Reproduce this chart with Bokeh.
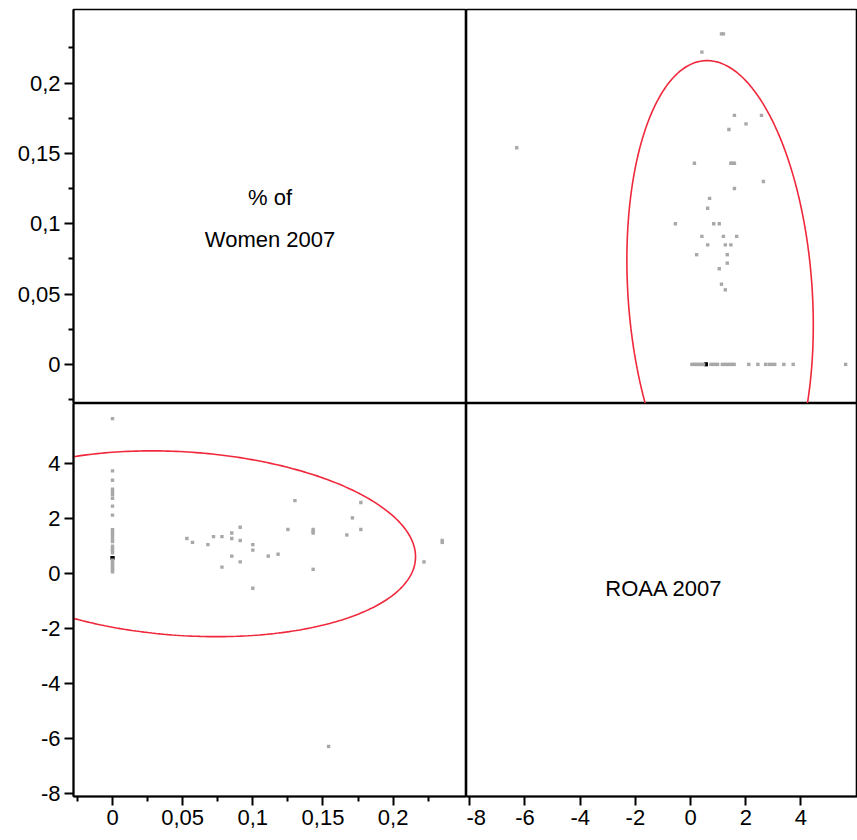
import numpy as np
from collections import Counter
from bokeh.plotting import figure
from bokeh.layouts import gridplot
from bokeh.models import FixedTicker, Range1d, ColumnDataSource
from bokeh.embed import file_html
from bokeh.resources import INLINE
from bokeh.core.properties import value

# ---------------- data ----------------
# banks with at least one woman: (% of women 2007, ROAA 2007)
women_pct = [0.053, 0.057, 0.068, 0.072, 0.078, 0.078, 0.085, 0.085, 0.085,
             0.091, 0.091, 0.091, 0.100, 0.100, 0.100, 0.111, 0.118, 0.125,
             0.130, 0.143, 0.143, 0.143, 0.143, 0.154, 0.167, 0.171, 0.177,
             0.177, 0.222, 0.235, 0.235]
roaa_pct = [1.26, 1.12, 1.04, 1.33, 1.33, 0.22, 1.46, 1.26, 0.62,
            1.67, 1.19, 0.41, 1.04, 0.84, -0.55, 0.62, 0.69, 1.59,
            2.64, 1.59, 1.52, 1.46, 0.14, -6.30, 1.39, 2.01, 2.57,
            1.59, 0.41, 1.19, 1.12]
# banks with no women (% of women = 0): ROAA 2007
roaa_no_women = [5.62, 3.72, 3.38, 3.05, 2.95, 2.85, 2.72, 2.44, 2.11,
                 1.58, 1.50, 1.42, 1.33, 1.24, 1.15, 0.98, 0.90, 0.82, 0.74,
                 0.56, 0.56, 0.56, 0.56, 0.56, 0.47, 0.40, 0.33, 0.26, 0.19,
                 0.12, 0.05]

# bivariate normal density ellipse (95%)
mean_women, sd_women = 0.051, 0.0674
mean_roaa, sd_roaa = 1.07, 1.38
corr = -0.14
chi2_95 = 5.991

# axes
women_ticks = [0.0, 0.05, 0.1, 0.15, 0.2]
women_tick_labels = ["0", "0,05", "0,1", "0,15", "0,2"]
women_minor_ticks = [-0.025, 0.025, 0.075, 0.125, 0.175, 0.225]
roaa_ticks = [-8, -6, -4, -2, 0, 2, 4]
roaa_tick_labels = ["-8", "-6", "-4", "-2", "0", "2", "4"]
women_range = (-0.0278, 0.2523)
roaa_range_y = (-8.12, 6.17)
roaa_range_x = (-8.12, 6.05)

women_title = ["% of", "Women 2007"]
roaa_title = ["ROAA 2007"]

# ---------------- derived ----------------
w_all = list(women_pct) + [0.0] * len(roaa_no_women)
r_all = list(roaa_pct) + list(roaa_no_women)
cnt = Counter(zip(w_all, r_all))
colors = ["#000000" if cnt[(a, b)] >= 3 else "#a8a8a8" for a, b in zip(w_all, r_all)]
pts = ColumnDataSource(dict(w=w_all, r=r_all, c=colors))

t = np.linspace(0, 2 * np.pi, 361)
k = np.sqrt(chi2_95)
z1, z2 = k * np.cos(t), k * np.sin(t)
ell = ColumnDataSource(dict(
    w=mean_women + sd_women * z1,
    r=mean_roaa + sd_roaa * (corr * z1 + np.sqrt(1 - corr ** 2) * z2)))

FONT = "Liberation Sans"
RED = "#f0283c"


def make(xr, yr, fw, fh, left, top, bottom, xaxis, yaxis):
    p = figure(x_range=Range1d(*xr), y_range=Range1d(*yr),
               frame_width=fw, frame_height=fh,
               min_border_left=left, min_border_right=0,
               min_border_top=top, min_border_bottom=bottom,
               x_axis_location="below" if xaxis else None,
               y_axis_location="left" if yaxis else None,
               output_backend="svg", toolbar_location=None)
    p.grid.visible = False
    p.outline_line_color = "black"
    p.outline_line_width = 1.6
    p.background_fill_color = "white"
    p.border_fill_color = "white"
    return p


def style(ax, ticks, labels, minor):
    ax.ticker = FixedTicker(ticks=ticks, minor_ticks=minor)
    ax.major_label_overrides = {tk: lb for tk, lb in zip(ticks, labels)}
    ax.axis_line_color = "black"
    ax.axis_line_width = 2
    ax.major_tick_line_color = "black"
    ax.major_tick_line_width = 2
    ax.minor_tick_line_color = "black"
    ax.minor_tick_line_width = 2
    ax.major_tick_in = 0
    ax.major_tick_out = 9
    ax.minor_tick_in = 0
    ax.minor_tick_out = 5
    ax.major_label_text_font = FONT
    ax.major_label_text_font_size = "22px"
    ax.major_label_text_color = "black"
    ax.major_label_standoff = 4


LW, RW = 393, 391
TH, BH = 394, 393
LB, TB, BB = 73, 9, 44

# top-left: title of women
p11 = make(women_range, women_range, LW, TH, LB, TB, 0, False, True)
style(p11.yaxis[0], women_ticks, women_tick_labels, women_minor_ticks)
xm = (women_range[0] + women_range[1]) / 2
span = women_range[1] - women_range[0]
p11.text(x=[xm, xm],
         y=[women_range[1] - 0.478 * span, women_range[1] - 0.585 * span],
         text=women_title, text_font=value(FONT), text_font_size="22px",
         text_align="center", text_baseline="middle", text_color="black")

# top-right: x = ROAA, y = women
p12 = make(roaa_range_x, women_range, RW, TH, 0, TB, 0, False, False)
p12.line("r", "w", source=ell, line_color=RED, line_width=1.6)
p12.scatter("r", "w", source=pts, marker="square", size=3.4,
            fill_color="c", line_color=None)

# bottom-left: x = women, y = ROAA
p21 = make(women_range, roaa_range_y, LW, BH, LB, 0, BB, True, True)
style(p21.xaxis[0], women_ticks, women_tick_labels, women_minor_ticks)
style(p21.yaxis[0], roaa_ticks, roaa_tick_labels, [])
p21.line("w", "r", source=ell, line_color=RED, line_width=1.6)
p21.scatter("w", "r", source=pts, marker="square", size=3.4,
            fill_color="c", line_color=None)

# bottom-right: title of ROAA
p22 = make(roaa_range_x, roaa_range_y, RW, BH, 0, 0, BB, True, False)
style(p22.xaxis[0], roaa_ticks, roaa_tick_labels, [])
xs = roaa_range_x[0] + 0.505 * (roaa_range_x[1] - roaa_range_x[0])
ys = roaa_range_y[1] - 0.472 * (roaa_range_y[1] - roaa_range_y[0])
p22.text(x=[xs], y=[ys], text=roaa_title, text_font=value(FONT),
         text_font_size="22px", text_align="center", text_baseline="middle",
         text_color="black")

grid = gridplot([[p11, p12], [p21, p22]], toolbar_location=None)

open("out.html", "w").write(file_html(grid, INLINE))
